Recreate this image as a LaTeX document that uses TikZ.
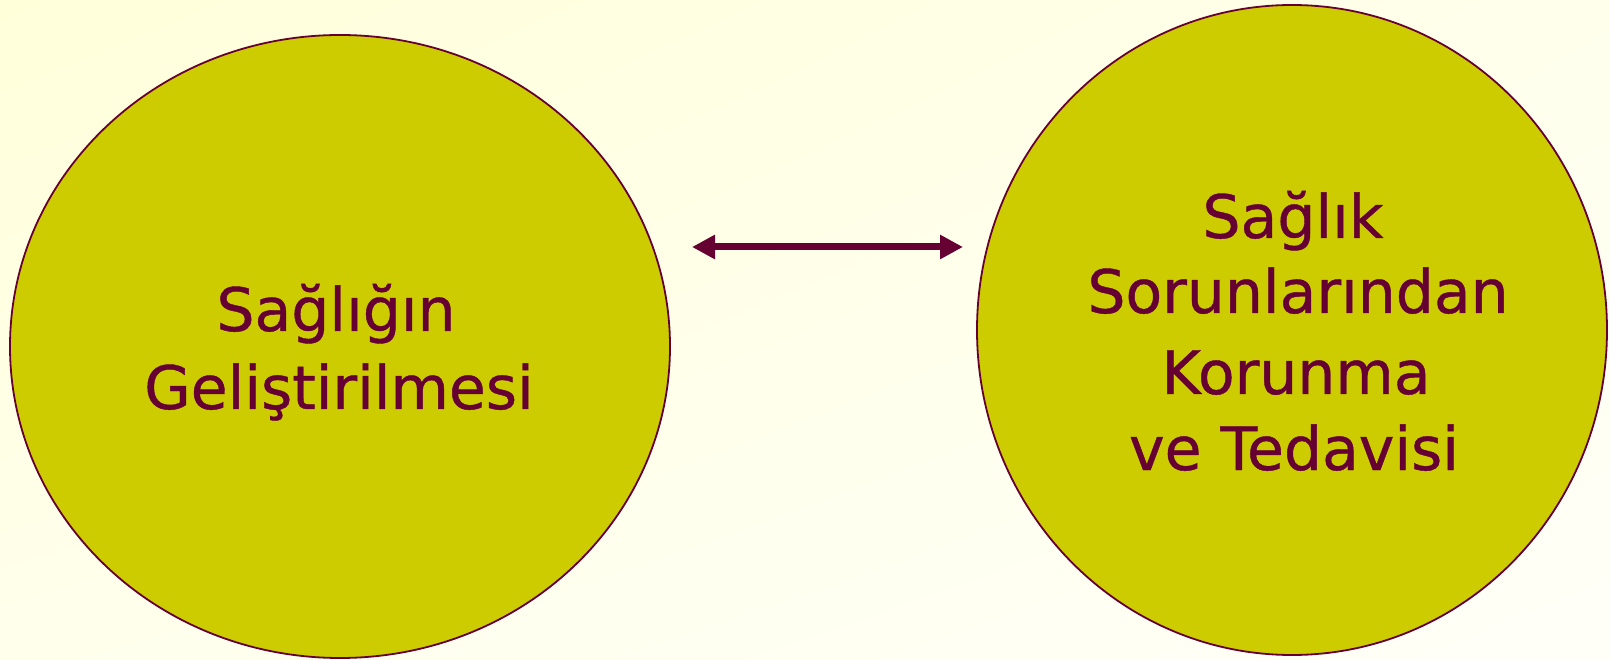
\documentclass[tikz,border=0pt]{standalone}
\usepackage{fontspec}
\setmainfont{DejaVu Sans}
\newfontfamily\handfont[FakeBold=0.7]{DejaVu Sans}
\usetikzlibrary{shapes.geometric,arrows.meta,shadings}
\definecolor{wine}{HTML}{660033}
\definecolor{olive}{HTML}{CCCC00}
\definecolor{bgA}{HTML}{FFFFDA}
\definecolor{bgB}{HTML}{FFFFEC}
\definecolor{bgC}{HTML}{FFFFF8}
\tikzset{
  blob/.style={ellipse, draw=wine, fill=olive, line width=1.8pt, inner sep=0pt},
  txt/.style={text=wine, anchor=base, inner sep=0pt,
    font=\handfont\fontsize{60}{78}\selectfont},
  link/.style={draw=wine, line width=7pt,
    {Triangle[length=23pt,width=23pt]}-{Triangle[length=23pt,width=23pt]}}
}
\begin{document}
\begin{tikzpicture}[x=1pt,y=-1pt]
  \useasboundingbox (0,0) rectangle (1610,660);
  \shade[upper left=bgA, upper right=bgB, lower left=bgB, lower right=bgC]
    (0,0) rectangle (1610,660);

  % two overlapping fields of health care
  \node[blob, minimum width=660pt, minimum height=623pt] (promo) at (340,346.5) {};
  \node[blob, minimum width=630pt, minimum height=650pt] (care) at (1292,330) {};

  % left text
  \node[txt] (p1) at (336,331) {Sağlığın};
  \node[txt] (p2) at (339,409) {Geliştirilmesi};

  % right text
  \node[txt] (c1) at (1293,238) {Sağlık};
  \node[txt] (c2) at (1298,313) {Sorunlarından};
  \node[txt] (c3) at (1296,394) {Korunma};
  \node[txt] (c4) at (1294,470) {ve Tedavisi};

  % two-way relation between them
  \coordinate (aL) at (692,247);
  \coordinate (aR) at (963,247);
  \draw[link] (aL) -- (aR);
\end{tikzpicture}
\end{document}
